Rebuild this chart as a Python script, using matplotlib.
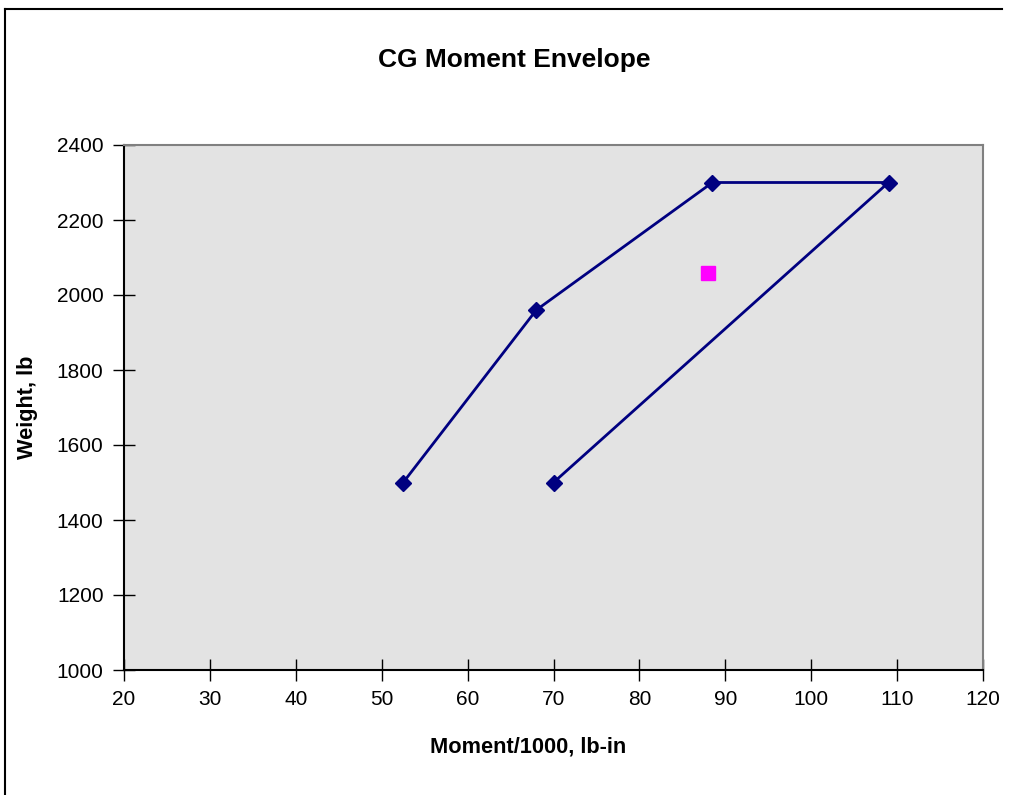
"""
CG Moment Envelope - weight vs moment/1000
"""
import matplotlib
matplotlib.use('Agg')
import matplotlib.pyplot as plt
from matplotlib.lines import Line2D

plt.rcParams['font.family'] = ['Liberation Sans', 'DejaVu Sans']

# envelope corner points (moment/1000 lb-in, weight lb)
env_moment = [52.5, 68.0, 88.5, 109.0, 70.0]
env_weight = [1500, 1960, 2300, 2300, 1500]

# current loading point
cg_moment = [88.0]
cg_weight = [2058]

x_ticks = [20, 30, 40, 50, 60, 70, 80, 90, 100, 110, 120]
y_ticks = [1000, 1200, 1400, 1600, 1800, 2000, 2200, 2400]

W, H = 1011, 795
fig = plt.figure(figsize=(W / 100, H / 100), dpi=100)
fig.patch.set_facecolor('white')

# axes box in pixels: left 124, right 983, top 145, bottom 670
ax = fig.add_axes([124 / W, 1 - 670 / H, (983 - 124) / W, (670 - 145) / H])
ax.set_facecolor('#e3e3e3')

ax.plot(env_moment, env_weight, color='#000080', linewidth=2.0,
        marker='D', markersize=8, markerfacecolor='#000080',
        markeredgecolor='#000080', zorder=3)
ax.plot(cg_moment, cg_weight, linestyle='none', marker='s', markersize=10.5,
        color='#ff00ff', zorder=4)

ax.set_xlim(20, 120)
ax.set_ylim(1000, 2400)
ax.set_xticks(x_ticks)
ax.set_yticks(y_ticks)
ax.tick_params(direction='inout', length=16.5, width=1, labelsize=15,
               color='black')
ax.tick_params(axis='x', pad=6)
ax.tick_params(axis='y', pad=6.5)

for side in ['left', 'bottom']:
    ax.spines[side].set_color('black')
    ax.spines[side].set_linewidth(1.5)
for side in ['top', 'right']:
    ax.spines[side].set_color('#808080')
    ax.spines[side].set_linewidth(1.5)

ax.set_xlabel('Moment/1000, lb-in', fontsize=15.7, fontweight='bold')
ax.set_ylabel('Weight, lb', fontsize=15.7, fontweight='bold')
ax.xaxis.set_label_coords((528 - 124) / 859, (670 - 737) / 525)
ax.yaxis.set_label_coords((38 - 124) / 859, 0.5)

fig.text(514 / W, 1 - 60 / H, 'CG Moment Envelope', fontsize=19,
         fontweight='bold', ha='center', va='center')

# outer chart border (top and left only visible)
fig.add_artist(Line2D([5 / W, 1002 / W], [1 - 9 / H, 1 - 9 / H],
                      transform=fig.transFigure, color='black', linewidth=1.5))
fig.add_artist(Line2D([5 / W, 5 / W], [1 - 9 / H, 0],
                      transform=fig.transFigure, color='black', linewidth=1.5))

fig.savefig('out.png', dpi=100)
plt.close(fig)
